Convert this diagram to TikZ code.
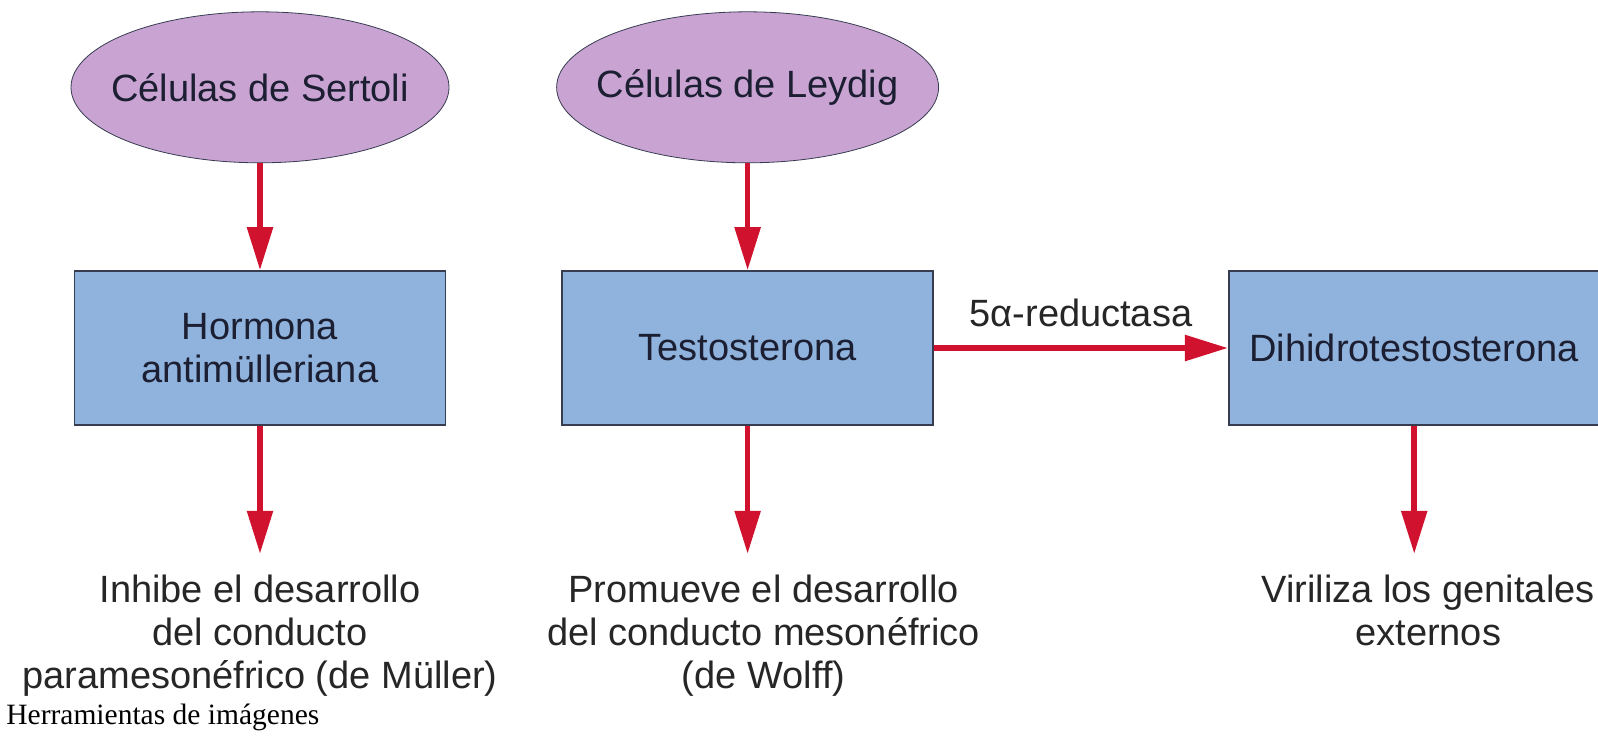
\documentclass[tikz,border=0pt]{standalone}
\usepackage{fontspec}
\setmainfont{Liberation Sans}
\newfontfamily\captionfont{Liberation Serif}
\definecolor{cellpurple}{RGB}{201, 164, 211}
\definecolor{boxblue}{RGB}{143, 179, 220}
\definecolor{arrowred}{RGB}{208, 18, 46}
\definecolor{lineborder}{RGB}{55, 60, 80}
\definecolor{labeltext}{RGB}{28, 30, 50}
\usetikzlibrary{shapes.geometric, arrows.meta, positioning}

\begin{document}
\begin{tikzpicture}[
        x=0.5pt, y=-0.5pt,
        node distance=53.5pt,
        cell/.style={ellipse, draw=lineborder, thin, fill=cellpurple, minimum width=189pt, minimum height=75.5pt, inner xsep=-8pt, inner ysep=0pt, font=\fontsize{19}{21.5}\selectfont, text=labeltext},
        box/.style={rectangle, draw=lineborder, thick, fill=boxblue, minimum width=185.5pt, minimum height=77pt, align=center, font=\fontsize{19}{21.5}\selectfont, text=labeltext},
        effect/.style={align=center, inner xsep=0pt, inner ysep=10.5pt, font=\fontsize{19}{21.5}\selectfont, text=black!85},
        arrow/.style={-{Triangle[width=12.5pt, length=21.5pt]}, line width=2.8pt, arrowred}
    ]
        \fill[white] (0,0) rectangle (1598,736);
        \useasboundingbox (0,0) rectangle (1598,736);

        \node[box] (hormona) at (260,348) {Hormona\\antimülleriana};
        \node[box, right=57.5pt of hormona] (testo) {Testosterona};
        \node[box, right=147pt of testo] (dht) {Dihidrotestosterona};
        \node[cell, above=of hormona] (sertoli) {Células de Sertoli};
        \node[cell, above=of testo] (leydig) {Células de Leydig};
        \node[effect, below=64pt of hormona] (inhibe) {Inhibe el desarrollo\\del conducto\\paramesonéfrico (de Müller)};
        \node[effect, below=64pt of testo, xshift=8pt] (promueve) {Promueve el desarrollo\\del conducto mesonéfrico\\(de Wolff)};
        \node[effect, below=64pt of dht, xshift=7pt] (viriliza) {Viriliza los genitales\\externos};
        \node[anchor=west, inner sep=0pt, font=\captionfont\fontsize{14.75}{17}\selectfont] (pie) at (6,717) {Herramientas de imágenes};

        \draw[arrow] (sertoli) -- (hormona);
        \draw[arrow] (leydig) -- (testo);
        \draw[arrow] (testo) -- node[above=9pt, inner sep=0pt, font=\fontsize{19}{21.5}\selectfont, text=black!85] (enzima) {5α-reductasa} (dht);
        \draw[arrow] (hormona) -- (inhibe);
        \draw[arrow] (testo) -- (testo |- promueve.north);
        \draw[arrow] (dht) -- (dht |- viriliza.north);
    \end{tikzpicture}
\end{document}
